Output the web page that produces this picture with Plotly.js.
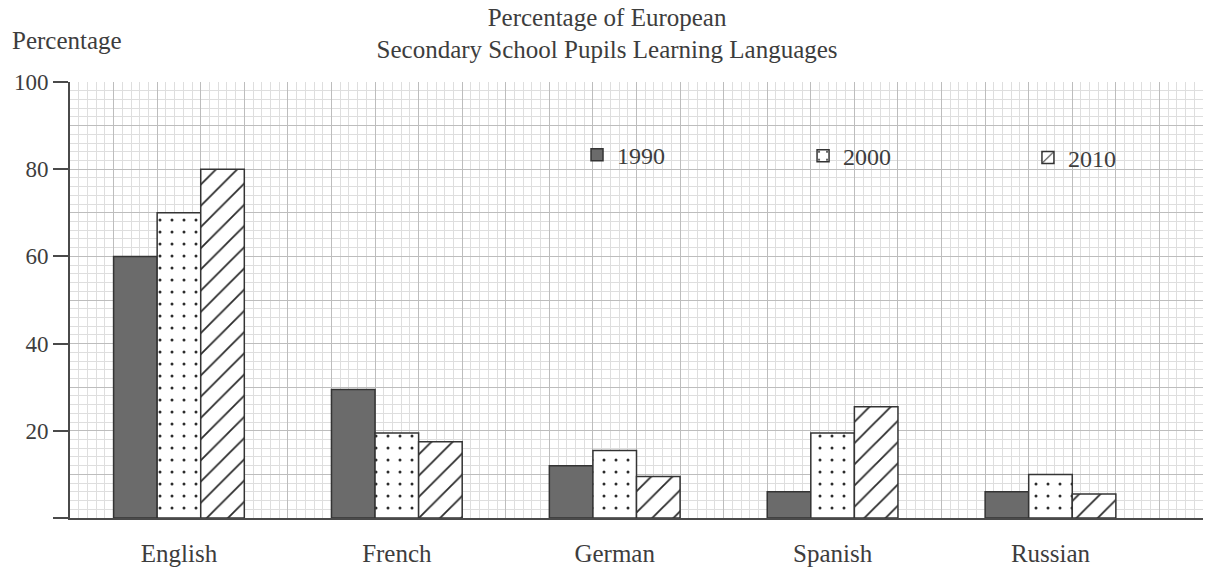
<!DOCTYPE html>
<html>
<head>
<meta charset="utf-8">
<script src="https://cdn.plot.ly/plotly-3.0.1.min.js"></script>
<style>
  html, body { margin: 0; padding: 0; background: #ffffff; }
  #chart { width: 1210px; height: 567px; }
</style>
</head>
<body>
<div id="chart"></div>
<script>
// ---- data ----
const categories = ['English', 'French', 'German', 'Spanish', 'Russian'];
const seriesNames = ['1990', '2000', '2010'];
const pct1990 = [60, 29.5, 12, 6, 6];
const pct2000 = [70, 19.5, 15.5, 19.5, 10];
const pct2010 = [80, 17.5, 9.5, 25.5, 5.5];
const yTickVals = [0, 20, 40, 60, 80, 100];
const yTickText = ['', '20', '40', '60', '80', '100'];
const titleLines = ['Percentage of European', 'Secondary School Pupils Learning Languages'];
const yLabel = 'Percentage';

// ---- styling ----
const FONT = 'Liberation Serif, Times New Roman, serif';
const INK = '#3d3d3d';
const EDGE = '#343434';

const traces = [
  {
    type: 'bar', name: seriesNames[0], x: categories, y: pct1990, legend: 'legend',
    marker: { color: '#6b6b6b', line: { color: EDGE, width: 1.5 } },
    hoverinfo: 'x+y+name'
  },
  {
    type: 'bar', name: seriesNames[1], x: categories, y: pct2000, legend: 'legend2',
    marker: {
      color: '#ffffff',
      line: { color: EDGE, width: 1.5 },
      pattern: { shape: '.', fgcolor: '#2b2b2b', bgcolor: '#ffffff', size: 12, solidity: 0.05, fillmode: 'replace' }
    },
    hoverinfo: 'x+y+name'
  },
  {
    type: 'bar', name: seriesNames[2], x: categories, y: pct2010, legend: 'legend3',
    marker: {
      color: '#ffffff',
      line: { color: EDGE, width: 1.5 },
      pattern: { shape: '/', fgcolor: '#2b2b2b', bgcolor: '#ffffff', size: 15, solidity: 0.12, fillmode: 'replace' }
    },
    hoverinfo: 'x+y+name'
  },
  // empty trace that only carries the graph-paper grid axes
  { type: 'scatter', x: [], y: [], xaxis: 'x2', yaxis: 'y2', showlegend: false, hoverinfo: 'skip' }
];

function legendAt(xPaper, yPaper) {
  return {
    orientation: 'h',
    x: xPaper, xanchor: 'left',
    y: yPaper, yanchor: 'middle',
    bgcolor: 'rgba(0,0,0,0)',
    borderwidth: 0,
    font: { family: FONT, size: 24, color: INK }
  };
}

const layout = {
  width: 1210,
  height: 567,
  margin: { l: 70, r: 7, t: 82, b: 49, autoexpand: false },
  paper_bgcolor: '#ffffff',
  plot_bgcolor: 'rgba(0,0,0,0)',
  font: { family: FONT, color: INK, size: 24 },
  barmode: 'group',
  bargap: 0.4,
  bargroupgap: 0,
  title: {
    text: titleLines.join('<br>'),
    font: { family: FONT, size: 25, color: INK },
    xref: 'container', x: 0.5017, xanchor: 'center',
    yref: 'container', y: 0.955, yanchor: 'top'
  },
  xaxis: {
    type: 'category',
    categoryorder: 'array', categoryarray: categories,
    range: [-0.5, 4.7],
    showgrid: false, zeroline: false,
    showline: true, linecolor: '#4a4a4a', linewidth: 2,
    ticks: 'outside', ticklen: 12, tickcolor: 'rgba(0,0,0,0)',
    tickfont: { family: FONT, size: 25, color: INK }
  },
  yaxis: {
    range: [0, 100],
    tickmode: 'array', tickvals: yTickVals, ticktext: yTickText,
    showgrid: false, zeroline: false,
    showline: true, linecolor: '#4a4a4a', linewidth: 2,
    ticks: 'outside', ticklen: 15, tickwidth: 2, tickcolor: '#4a4a4a',
    tickfont: { family: FONT, size: 23, color: INK }
  },
  // graph-paper grid
  xaxis2: {
    overlaying: 'x', anchor: 'y2', range: [0, 130],
    tickmode: 'linear', tick0: 0, dtick: 5,
    showgrid: true, gridcolor: '#bdbdbd', gridwidth: 1,
    minor: { dtick: 1, showgrid: true, gridcolor: '#dedede', gridwidth: 1 },
    showticklabels: false, ticks: '', zeroline: false, showline: false, fixedrange: true
  },
  yaxis2: {
    overlaying: 'y', anchor: 'x2', range: [0, 100],
    tickmode: 'linear', tick0: 0, dtick: 10,
    showgrid: true, gridcolor: '#bdbdbd', gridwidth: 1,
    minor: { dtick: 2, showgrid: true, gridcolor: '#dedede', gridwidth: 1 },
    showticklabels: false, ticks: '', zeroline: false, showline: false, fixedrange: true
  },
  showlegend: true,
  legend: legendAt(0.4475, 0.832),
  legend2: legendAt(0.6470, 0.830),
  legend3: legendAt(0.8455, 0.826),
  annotations: [
    {
      text: yLabel, showarrow: false,
      xref: 'paper', x: -0.053, xanchor: 'left',
      yref: 'paper', y: 1.096, yanchor: 'middle',
      font: { family: FONT, size: 25, color: INK }
    }
  ]
};

Plotly.newPlot('chart', traces, layout, { displayModeBar: false });
</script>
</body>
</html>
